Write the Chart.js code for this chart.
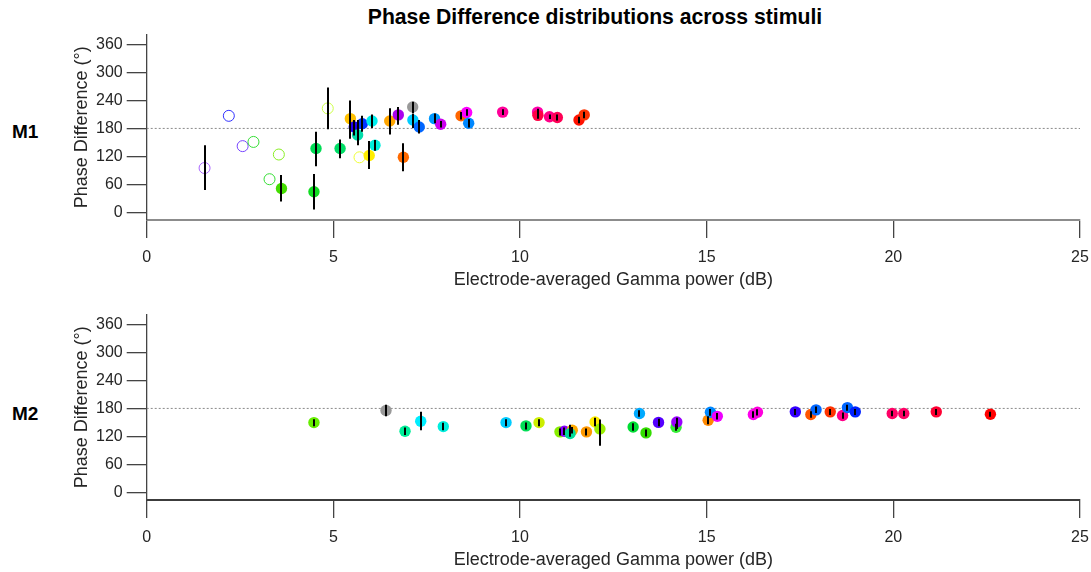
<!DOCTYPE html>
<html>
<head>
<meta charset="utf-8">
<script src="https://cdn.jsdelivr.net/npm/chart.js@4/dist/chart.umd.min.js"></script>
<style>
  html, body { margin: 0; padding: 0; background: #fff; }
  body { width: 1091px; height: 572px; position: relative; overflow: hidden; font-family: "Liberation Sans", Arial, sans-serif; color: #000; }
  .panel { position: absolute; left: 0; width: 1091px; height: 292px; }
  #title { position: absolute; top: 5px; left: 595px; transform: translateX(-50%); white-space: nowrap; font-weight: bold; font-size: 21.2px; }
  .mlabel { position: absolute; left: 12px; font-weight: bold; font-size: 19px; }
</style>
</head>
<body>
<div id="title">Phase Difference distributions across stimuli</div>
<div class="mlabel" style="top:121px">M1</div>
<div class="mlabel" style="top:403px">M2</div>
<div class="panel" style="top:0px"><canvas id="chartM1" width="1091" height="292"></canvas></div>
<div class="panel" style="top:280px"><canvas id="chartM2" width="1091" height="292"></canvas></div>

<script>
// axis setup shared by both monkeys
const xTicks = [0, 5, 10, 15, 20, 25];
const yTicks = [0, 60, 120, 180, 240, 300, 360];
const refPhase = 180;

// M1 : one entry per stimulus
const m1Gamma = [1.55, 2.20, 2.57, 2.86, 3.54, 3.29, 3.61, 4.48, 4.535, 4.85, 5.18, 5.455, 5.56, 5.65, 5.775, 5.70,
  6.035, 6.115, 5.96, 6.51, 6.74, 6.875, 7.125, 7.13, 7.30, 7.71, 7.875, 8.42, 8.57, 8.625, 9.535, 10.47, 10.48,
  10.79, 11.0, 11.58, 11.72];
const m1Phase = [95, 207, 142, 151, 124, 71, 51, 44, 137, 223, 137, 201, 183, 166, 190, 118,
  196, 144, 122, 196, 209, 118, 226, 198, 183, 201, 189, 207, 214, 191, 215, 215, 208,
  205, 203.5, 198, 209];
const m1Low = [48, null, null, null, null, null, 23, 6, 99, 178, 116, 158, 165, 144, 173, null,
  181, 132, 93, 167, 188, 88, 212, 181, 169, 191, 182, 199, 207, 182, 209, 208, 201,
  200, 197, 191, 202];
const m1High = [144, null, null, null, null, null, 80, 82, 173, 268, 156, 240, 198, 198, 207, null,
  210, 155, 153, 223, 226, 148, 237, 211, 198, 212, 196, 215, 221, 200, 221, 222, 215,
  210, 210, 205, 216];
const m1Colors = ['#aa66ff', '#3333ff', '#7744ff', '#33dd33', '#88ee22', '#33dd33', '#44dd00', '#11dd22', '#00dd55',
  '#ccff44', '#00dd66', '#ffc000', '#2200ee', '#00ddaa', '#0033ff', '#eeff33', '#00eeee', '#00eedd', '#ffee00',
  '#ffa500', '#aa00ee', '#ff6a00', '#999999', '#00ccff', '#0066ff', '#0099ff', '#cc00ee', '#ff6600', '#ff00ff',
  '#0088ff', '#ff0099', '#ff00aa', '#ff0044', '#ff0088', '#ff0055', '#ff1100', '#ff3300'];
const m1Open = [true, true, true, true, true, true, false, false, false, true, false, false, false, false, false, true,
  false, false, false, false, false, false, false, false, false, false, false, false, false, false, false, false, false,
  false, false, false, false];

// M2
const m2Gamma = [4.48, 6.41, 6.92, 7.34, 7.945, 9.625, 10.16, 10.51, 11.07, 11.19, 11.4, 11.34, 11.78, 12.01, 12.14,
  13.03, 13.2, 13.375, 13.71, 14.18, 14.2, 15.04, 15.1, 15.285, 16.25, 16.36, 17.375, 17.79, 17.93, 18.31, 18.64,
  18.77, 18.98, 19.97, 20.28, 21.15, 22.6];
const m2Phase = [149.6, 175.4, 131, 152.4, 141, 149.6, 142.5, 149.6, 129.7, 131, 133, 126, 129.7, 151, 136,
  140, 169, 127.5, 150, 139.6, 151, 154.6, 171.7, 163, 166.8, 171.7, 172.6, 166.8, 176.9, 172.6, 164.7,
  181.8, 172.6, 169, 169, 172.6, 167.5];
const m2Low = [142, 163, 123, 133, 133, 142, 135, 142, 122, 123, 126, 119, 122, 142, 100,
  132, 162, 120, 142, 132, 136, 146, 164, 156, 160, 165, 166, 160, 170, 166, 158,
  175, 166, 163, 163, 166, 162];
const m2High = [157, 188, 139, 172.6, 149, 157, 150, 157, 137, 139, 140, 145, 137, 160, 156,
  148, 176, 135, 158, 147, 160, 163, 179, 170, 174, 178, 179, 174, 184, 179, 171,
  188, 179, 175, 175, 179, 173];
const m2Colors = ['#66ee00', '#999999', '#00ee99', '#00eeff', '#00eedd', '#00ccff', '#00dd55', '#ccee00', '#88ee00',
  '#8800ff', '#ffaa00', '#00dd99', '#ff9900', '#ffee00', '#99ee00', '#00dd33', '#00aaff', '#33dd00', '#5500ff',
  '#33ee33', '#9900ff', '#ff8800', '#0088ff', '#ee00ff', '#ff00ee', '#ff00dd', '#3300ff', '#ff5500', '#0066ff',
  '#ff3300', '#ff0088', '#0066ff', '#0022ff', '#ff0066', '#ff0066', '#ff0033', '#ff0000'];
const m2Open = m2Gamma.map(() => false);

const TXT = '#262626';
const FONT = "'Liberation Sans', Arial, sans-serif";

// black vertical error bars, drawn over the markers
const errorBars = {
  id: 'errorBars',
  afterDatasetsDraw(chart, args, opts) {
    const { ctx } = chart;
    const xs = chart.scales.x, ys = chart.scales.y;
    ctx.save();
    ctx.strokeStyle = '#000';
    ctx.lineWidth = 2;
    opts.x.forEach((xv, i) => {
      if (opts.low[i] == null) return;
      const px = Math.round(xs.getPixelForValue(xv));
      ctx.beginPath();
      ctx.moveTo(px, ys.getPixelForValue(opts.low[i]));
      ctx.lineTo(px, ys.getPixelForValue(opts.high[i]));
      ctx.stroke();
    });
    ctx.restore();
  }
};

function makePanel(id, gamma, phase, low, high, colors, open, xAxisColor) {
  const filled = [], filledCol = [], hollow = [], hollowCol = [];
  gamma.forEach((g, i) => {
    if (open[i]) { hollow.push({ x: g, y: phase[i] }); hollowCol.push(colors[i]); }
    else { filled.push({ x: g, y: phase[i] }); filledCol.push(colors[i]); }
  });

  return new Chart(document.getElementById(id), {
    type: 'scatter',
    data: {
      datasets: [
        {
          type: 'line',
          data: [{ x: xTicks[0], y: refPhase }, { x: xTicks[xTicks.length - 1], y: refPhase }],
          borderColor: '#8a8a8a',
          borderWidth: 1,
          borderDash: [2, 2],
          pointRadius: 0,
          order: 3
        },
        {
          data: hollow,
          backgroundColor: 'rgba(0,0,0,0)',
          borderColor: hollowCol,
          borderWidth: 1,
          pointRadius: 5.5,
          order: 2
        },
        {
          data: filled,
          backgroundColor: filledCol,
          borderWidth: 0,
          pointRadius: 5.7,
          order: 1
        }
      ]
    },
    options: {
      responsive: false,
      animation: false,
      events: [],
      layout: { padding: { left: 71.4, top: 34.5, right: 11, bottom: 1.4 } },
      plugins: {
        legend: { display: false },
        tooltip: { enabled: false },
        errorBars: { x: gamma, low: low, high: high }
      },
      scales: {
        x: {
          type: 'linear',
          min: 0,
          max: 25,
          afterBuildTicks: s => { s.ticks = xTicks.map(v => ({ value: v })); },
          afterFit: s => { s.height = 70.6; s.paddingLeft = 0; s.paddingRight = 0; },
          border: { color: xAxisColor, width: 2 },
          grid: { drawOnChartArea: false, drawTicks: true, tickLength: 18, color: '#444', lineWidth: 1.3 },
          ticks: { font: { family: FONT, size: 16 }, color: TXT, padding: 10, maxRotation: 0 },
          title: {
            display: true,
            text: 'Electrode-averaged Gamma power (dB)',
            font: { family: FONT, size: 18 },
            color: TXT,
            padding: 0
          }
        },
        y: {
          min: -16.5,
          max: 381.5,
          afterBuildTicks: s => { s.ticks = yTicks.map(v => ({ value: v })); },
          afterFit: s => { s.width = 75.3; },
          border: { color: '#444', width: 1.3 },
          grid: { drawOnChartArea: false, drawTicks: true, tickLength: 20, color: '#444', lineWidth: 1.3 },
          ticks: { font: { family: FONT, size: 16 }, color: TXT, padding: 4 },
          title: {
            display: true,
            text: 'Phase Difference (°)',
            font: { family: FONT, size: 18 },
            color: TXT,
            padding: 0
          }
        }
      }
    },
    plugins: [errorBars]
  });
}

makePanel('chartM1', m1Gamma, m1Phase, m1Low, m1High, m1Colors, m1Open, '#8c8c8c');
makePanel('chartM2', m2Gamma, m2Phase, m2Low, m2High, m2Colors, m2Open, '#3c3c3c');
</script>
</body>
</html>
